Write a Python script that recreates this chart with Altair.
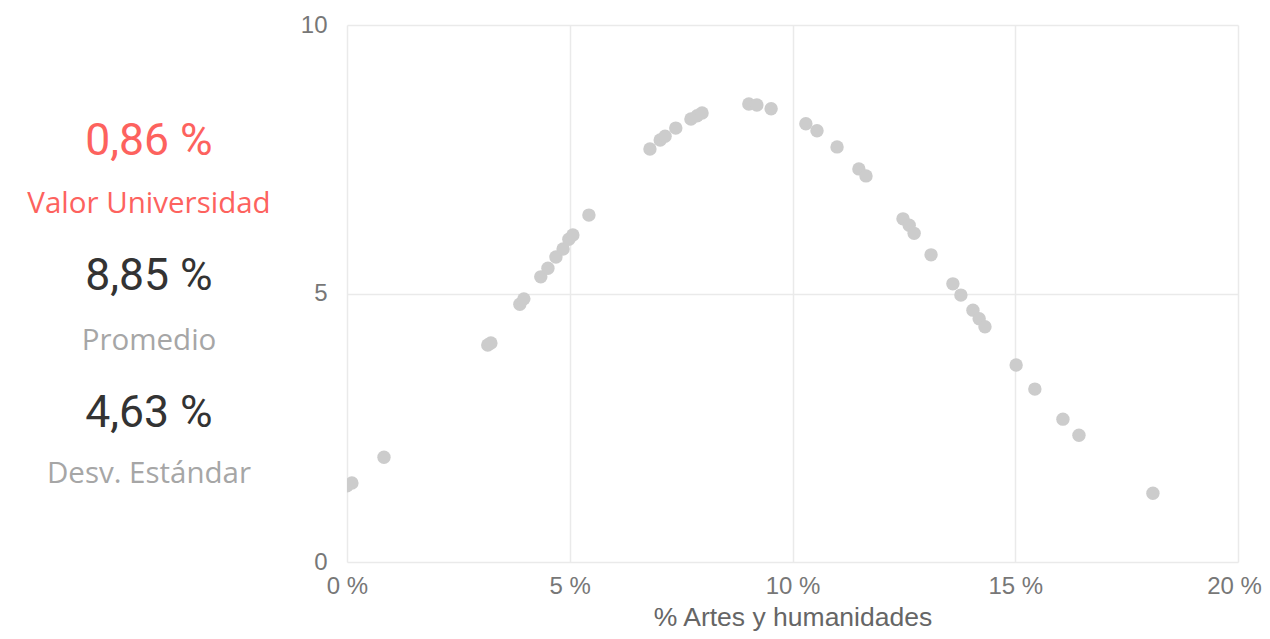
import altair as alt
import pandas as pd

# Scatter data: % Artes y humanidades (x) vs density value (y)
x_pct = [0.00, 0.11, 0.83, 3.16, 3.23, 3.88, 3.97, 4.35, 4.51, 4.69, 4.85, 4.98, 5.07, 5.43,
         6.80, 7.03, 7.14, 7.38, 7.72, 7.86, 7.97, 9.02, 9.20, 9.52, 10.30, 10.55, 11.00,
         11.49, 11.65, 12.48, 12.62, 12.73, 13.11, 13.60, 13.78, 14.05, 14.19, 14.32,
         15.02, 15.44, 16.07, 16.43, 18.09]
y_val = [1.42, 1.47, 1.95, 4.04, 4.08, 4.80, 4.90, 5.31, 5.47, 5.68, 5.83, 6.01, 6.09, 6.46,
         7.69, 7.86, 7.93, 8.08, 8.25, 8.31, 8.36, 8.53, 8.51, 8.44, 8.16, 8.03, 7.73,
         7.32, 7.19, 6.39, 6.27, 6.12, 5.72, 5.18, 4.97, 4.69, 4.53, 4.38,
         3.67, 3.22, 2.66, 2.36, 1.28]

x_ticks = [0, 5, 10, 15, 20]
y_ticks = [0, 5, 10]

stat_values = ["0,86 %", "8,85 %", "4,63 %"]
stat_labels = ["Valor Universidad", "Promedio", "Desv. Estándar"]

df = pd.DataFrame({"x": x_pct, "y": y_val})

W, H = 891, 537
PANEL_X = 149 - 347  # panel centre relative to plot left
RED = "#FD625E"

points = alt.Chart(df).mark_circle(size=180, color="#CCCCCC", opacity=1, clip=True).encode(
    x=alt.X("x:Q", title="% Artes y humanidades",
            scale=alt.Scale(domain=[0, 20], nice=False),
            axis=alt.Axis(values=x_ticks, labelExpr="datum.value + ' %'", grid=True,
                          gridColor="#EAEAEA", gridWidth=1.5, domain=False, ticks=False,
                          labelFlush=False, labelOverlap=False,
                          labelOffset={"condition": {"test": "datum.value == 20", "value": -4},
                                       "value": 0},
                          labelFont="Liberation Sans", labelFontSize=24, labelColor="#777777",
                          labelPadding=12, titleFont="Liberation Sans", titleFontSize=26.5,
                          titleColor="#666666", titleFontWeight="normal", titlePadding=6)),
    y=alt.Y("y:Q", title=None,
            scale=alt.Scale(domain=[0, 10], nice=False),
            axis=alt.Axis(values=y_ticks, grid=True, gridColor="#EAEAEA", gridWidth=1.5,
                          domain=False, ticks=False, labelFlush=False, labelOverlap=False,
                          labelFont="Liberation Sans",
                          labelFontSize=24, labelColor="#777777", labelPadding=20)),
)

# Left statistics panel
vals_df = pd.DataFrame({"t": stat_values, "i": [0, 1, 2]})
labs_df = pd.DataFrame({"t": stat_labels, "i": [0, 1, 2]})

layers = [points]
val_baselines = [155 - 25, 290 - 25, 427 - 25]
lab_baselines = [213 - 25, 350 - 25, 483 - 25]
val_colors = [RED, "#333333", "#333333"]
lab_colors = [RED, "#A6A6A6", "#A6A6A6"]
for k in range(3):
    layers.append(
        alt.Chart(vals_df.iloc[[k]]).mark_text(
            font="Roboto", fontSize=44.5, align="center", baseline="alphabetic",
            color=val_colors[k]
        ).encode(text="t:N", x=alt.value(PANEL_X), y=alt.value(val_baselines[k]))
    )
    layers.append(
        alt.Chart(labs_df.iloc[[k]]).mark_text(
            font="Open Sans", fontSize=29.5, align="center", baseline="alphabetic",
            color=lab_colors[k]
        ).encode(text="t:N", x=alt.value(PANEL_X), y=alt.value(lab_baselines[k]))
    )

chart = alt.layer(*layers).properties(
    width=W, height=H,
    autosize=alt.AutoSizeParams(type="none"),
    padding={"left": 339, "top": 17, "right": 24, "bottom": 70},
).configure_view(stroke=None)

chart.save("out.html", embed_options={"renderer": "svg", "actions": False})
